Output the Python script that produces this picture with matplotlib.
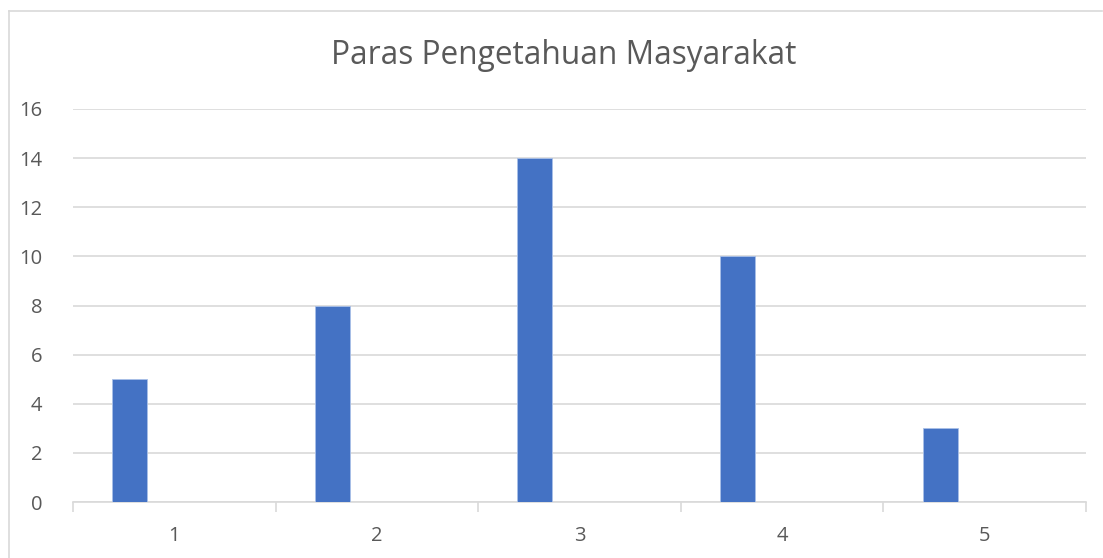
import matplotlib
matplotlib.use("Agg")
import matplotlib.pyplot as plt
import numpy as np
from matplotlib.lines import Line2D

categories = ["1", "2", "3", "4", "5"]
values = [5, 8, 14, 10, 3]
yticks = [0, 2, 4, 6, 8, 10, 12, 14, 16]
title = "Paras Pengetahuan Masyarakat"

plt.rcParams['font.family'] = ['Open Sans', 'DejaVu Sans']
text_color = "#595959"
grid_color = "#d9d9d9"
bar_color = "#4472c4"

W, H = 1103, 558
fig = plt.figure(figsize=(W / 100, H / 100), dpi=100)
ax = fig.add_axes([73 / W, (H - 502) / H, (1086 - 73) / W, 393 / H])

x = np.arange(len(categories))
offset = -0.22
width = 0.173
ax.bar(x + offset, values, width=width, color=bar_color, zorder=3,
       edgecolor="#a9c0e8", linewidth=0.6)

ax.set_xlim(-0.5, len(categories) - 0.5)
ax.set_ylim(0, 16)
ax.set_yticks(yticks)
ax.set_yticklabels([str(t) for t in yticks])
ax.set_xticks(x)
ax.set_xticklabels(categories)
ax.set_xticks(np.arange(len(categories) + 1) - 0.5, minor=True)

ax.grid(axis="y", color=grid_color, linewidth=1.2, zorder=0)
ax.tick_params(axis="y", length=0, pad=22, labelsize=14.5, labelcolor=text_color)
ax.tick_params(axis="x", which="major", length=0, pad=17, labelsize=14.5, labelcolor=text_color)
ax.tick_params(axis="x", which="minor", length=7, width=1.2, color=grid_color)
for s in ["top", "right", "left"]:
    ax.spines[s].set_visible(False)
ax.spines["bottom"].set_color(grid_color)
ax.spines["bottom"].set_linewidth(1.2)

fig.text(564 / W, 1 - 55 / H, title, ha="center", va="center",
         fontsize=22.8, color=text_color)

# chart area border (top and left visible)
fig.add_artist(Line2D([9 / W, 9 / W], [0, 1 - 11 / H], transform=fig.transFigure,
                      color=grid_color, linewidth=1.2))
fig.add_artist(Line2D([9 / W, 1102 / W], [1 - 11 / H, 1 - 11 / H], transform=fig.transFigure,
                      color=grid_color, linewidth=1.2))

fig.savefig("out.png", dpi=100)
